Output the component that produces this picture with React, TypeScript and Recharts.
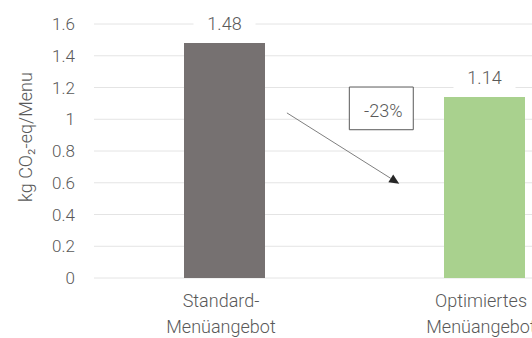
import { BarChart, Bar, Cell, XAxis, YAxis, CartesianGrid, LabelList, Label, ReferenceArea, ReferenceLine } from 'recharts';

const categoryLines = [
  ['Standard-', 'Menüangebot'],
  ['Optimiertes', 'Menüangebot'],
];
const categoryPositions = [0.5, 1.5]; // band centres on the numeric x axis
const emissions = [1.48, 1.14];
const barColors = ['#767171', '#A9D18E'];
const yTicks = [0, 0.2, 0.4, 0.6, 0.8, 1, 1.2, 1.4, 1.6];

// annotation: arrow from the first bar towards the second, plus the change box
const arrowFrom = { x: 0.742, y: 1.04 };
const arrowTo = { x: 1.174, y: 0.594 };
const changeBox = { x1: 0.982, x2: 1.228, y1: 0.934, y2: 1.203 };

const changePct = Math.round((emissions[1] / emissions[0] - 1) * 100);

const chartData = categoryPositions.map((pos, i) => ({
  pos,
  value: emissions[i],
  fill: barColors[i],
}));

const FONT = 'Roboto, "Liberation Sans", Arial, sans-serif';
const TEXT = '#595959';

function CategoryTick({ x, y, payload }: any) {
  const i = categoryPositions.indexOf(payload.value);
  const lines = categoryLines[i] ?? [];
  return (
    <text x={x - 3} y={y} textAnchor="middle" fill={TEXT} fontSize={18} fontWeight={300} fontFamily={FONT}>
      {lines.map((line, k) => (
        <tspan key={k} x={x - 3} dy={k === 0 ? 29 : 26}>
          {line}
        </tspan>
      ))}
    </text>
  );
}

function ValueLabel({ x, y, width, value }: any) {
  const cx = Number(x) + Number(width) / 2;
  const cy = Number(y) - 19;
  return (
    <g>
      <rect x={cx - 31} y={cy - 10} width={62} height={20} fill="#fff" />
      <text x={cx} y={cy} dy="0.35em" textAnchor="middle" fill={TEXT} fontSize={18} fontWeight={300} fontFamily={FONT}>
        {Number(value).toFixed(2)}
      </text>
    </g>
  );
}

function ArrowShape({ x1, y1, x2, y2 }: any) {
  const ax = Number(x1), ay = Number(y1), bx = Number(x2), by = Number(y2);
  const len = Math.hypot(bx - ax, by - ay);
  const ux = (bx - ax) / len, uy = (by - ay) / len;
  const head = 10, half = 4.5;
  const baseX = bx - ux * head, baseY = by - uy * head;
  const pts = [
    [bx, by],
    [baseX - uy * half, baseY + ux * half],
    [baseX + uy * half, baseY - ux * half],
  ]
    .map((p) => p.join(','))
    .join(' ');
  return (
    <g>
      <line x1={ax} y1={ay} x2={baseX} y2={baseY} stroke="#7f7f7f" strokeWidth={1} />
      <polygon points={pts} fill="#262626" />
    </g>
  );
}

function AxisTitle({ viewBox }: any) {
  const cx = 25;
  const cy = viewBox.y + viewBox.height / 2 - 14;
  return (
    <text
      x={cx}
      y={cy}
      transform={`rotate(-90, ${cx}, ${cy})`}
      textAnchor="middle"
      dominantBaseline="central"
      fill={TEXT}
      fontSize={18}
      fontWeight={300}
      fontFamily={FONT}
    >
      kg CO₂-eq/Menu
    </text>
  );
}

export default function App() {
  return (
    <div style={{ position: 'fixed', left: 0, top: 0, width: 532, height: 338, overflow: 'hidden', background: '#fff' }}>
      <BarChart width={630} height={338} data={chartData} margin={{ top: 24, right: 16, bottom: 0, left: 0 }}>
        <CartesianGrid vertical={false} stroke="#e4e4e4" />
        <XAxis
          dataKey="pos"
          type="number"
          domain={[0, 2]}
          ticks={categoryPositions}
          axisLine={false}
          tickLine={false}
          tickSize={0}
          tickMargin={0}
          height={60}
          tick={<CategoryTick />}
        />
        <YAxis
          domain={[0, 1.6]}
          ticks={yTicks}
          width={94}
          axisLine={false}
          tickLine={false}
          tickSize={0}
          tickMargin={19}
          tick={{ fill: TEXT, fontSize: 17, fontWeight: 300, fontFamily: FONT }}
        >
          <Label content={<AxisTitle />} />
        </YAxis>
        <ReferenceArea
          x1={changeBox.x1}
          x2={changeBox.x2}
          y1={changeBox.y1}
          y2={changeBox.y2}
          fill="#fff"
          fillOpacity={1}
          stroke="#595959"
          strokeWidth={1}
          ifOverflow="visible"
        >
          <Label value={`${changePct}%`} position="center" dx={2} dy={2} fill={TEXT} fontSize={18} fontWeight={300} fontFamily={FONT} />
        </ReferenceArea>
        <ReferenceLine segment={[arrowFrom, arrowTo]} shape={<ArrowShape />} ifOverflow="visible" />
        <Bar dataKey="value" barSize={81} isAnimationActive={false}>
          {chartData.map((d) => (
            <Cell key={d.pos} fill={d.fill} />
          ))}
          <LabelList dataKey="value" content={<ValueLabel />} />
        </Bar>
      </BarChart>
    </div>
  );
}
